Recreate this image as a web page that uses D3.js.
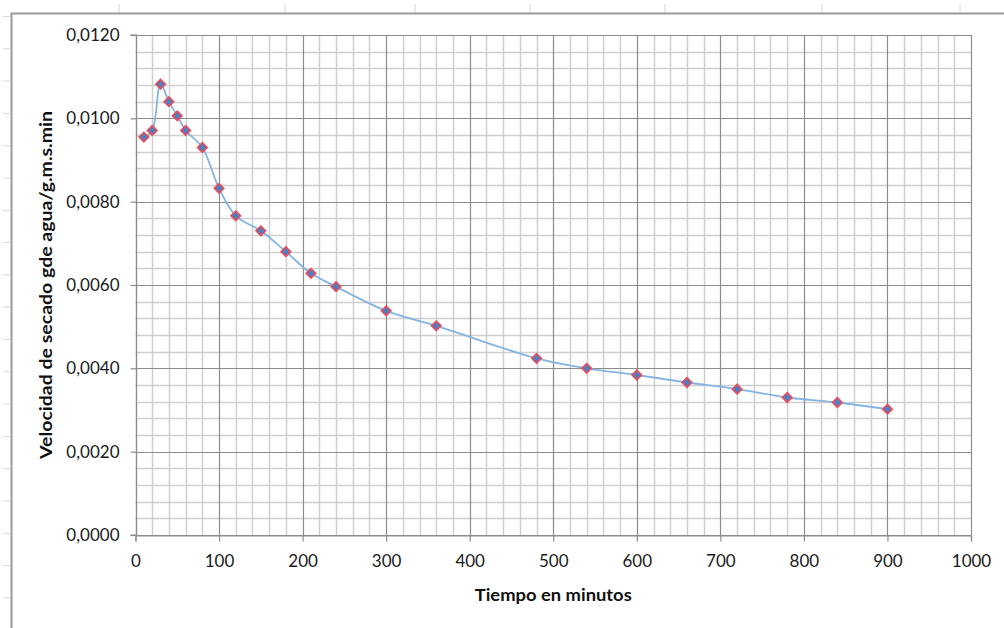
<!DOCTYPE html>
<html>
<head>
<meta charset="utf-8">
<script src="https://cdn.jsdelivr.net/npm/d3@7"></script>
<style>
  html, body { margin: 0; padding: 0; background: #fff; }
  svg { display: block; }
  text { font-family: Lato, "Open Sans", sans-serif; }
</style>
</head>
<body>
<svg id="chart" width="1004" height="628"></svg>
<script>
// Data (time in minutes vs drying rate)
const tiempo = [10, 20, 30, 40, 50, 60, 80, 100, 120, 150, 180, 210, 240, 300, 360, 480, 540, 600, 660, 720, 780, 840, 900];
const velocidad = [0.00955, 0.00971, 0.01082, 0.01040, 0.01006, 0.00971, 0.00930, 0.00832, 0.00766, 0.00730, 0.00680, 0.00628, 0.00596, 0.00538, 0.00502, 0.00424, 0.00400, 0.00384, 0.00366, 0.00350, 0.00330, 0.00318, 0.00302];
const xTicks = [0, 100, 200, 300, 400, 500, 600, 700, 800, 900, 1000];
const yTicks = [0, 0.002, 0.004, 0.006, 0.008, 0.010, 0.012];
const xTitle = "Tiempo en minutos";
const yTitle = "Velocidad de secado gde agua/g.m.s.min";

const svg = d3.select("#chart");

// Spreadsheet background artifacts (cell separators)
const topMarks = [119, 285, 415, 530, 665, 822, 960];
svg.selectAll("line.topmark").data(topMarks).enter().append("line")
  .attr("x1", d => d).attr("x2", d => d).attr("y1", 4).attr("y2", 13)
  .attr("stroke", "#d8d8d8").attr("stroke-width", 1);
const leftMarks = d3.range(19).map(i => 16.5 + i * 32.3);
svg.selectAll("line.leftmark").data(leftMarks).enter().append("line")
  .attr("x1", 3).attr("x2", 10).attr("y1", d => d).attr("y2", d => d)
  .attr("stroke", "#d8d8d8").attr("stroke-width", 1);

// Chart area border
svg.append("path")
  .attr("d", "M11.5,628 L11.5,13.5 L1004,13.5")
  .attr("fill", "none").attr("stroke", "#9a9a9a").attr("stroke-width", 2);

const x = d3.scaleLinear().domain([0, 1000]).range([135.5, 971]);
const y = d3.scaleLinear().domain([0, 0.012]).range([535, 35]);

const g = svg.append("g");

// Minor gridlines
const xMinor = d3.range(0, 1001, 20).filter(v => v % 100 !== 0);
const yMinor = d3.range(0, 31).map(i => i * 0.0004).filter((v, i) => i % 5 !== 0);
g.selectAll("line.xminor").data(xMinor).enter().append("line")
  .attr("x1", d => Math.round(x(d)) + 0.5).attr("x2", d => Math.round(x(d)) + 0.5)
  .attr("y1", y(0.012)).attr("y2", y(0))
  .attr("stroke", "#cfcfcf").attr("stroke-width", 1.5);
g.selectAll("line.yminor").data(yMinor).enter().append("line")
  .attr("y1", d => Math.round(y(d)) + 0.5).attr("y2", d => Math.round(y(d)) + 0.5)
  .attr("x1", x(0)).attr("x2", x(1000))
  .attr("stroke", "#cfcfcf").attr("stroke-width", 1.5);

// Major gridlines
g.selectAll("line.xmajor").data(xTicks).enter().append("line")
  .attr("x1", d => Math.round(x(d)) + 0.5).attr("x2", d => Math.round(x(d)) + 0.5)
  .attr("y1", y(0.012)).attr("y2", y(0))
  .attr("stroke", "#8c8c8c").attr("stroke-width", 1.2);
g.selectAll("line.ymajor").data(yTicks).enter().append("line")
  .attr("y1", d => Math.round(y(d)) + 0.5).attr("y2", d => Math.round(y(d)) + 0.5)
  .attr("x1", x(0)).attr("x2", x(1000))
  .attr("stroke", "#8c8c8c").attr("stroke-width", 1.2);

// Axes
const xAxis = d3.axisBottom(x).tickValues(xTicks).tickSize(6).tickPadding(13).tickFormat(d3.format("d"));
const yAxis = d3.axisLeft(y).tickValues(yTicks).tickSize(6).tickPadding(11)
  .tickFormat(d => d3.format(".4f")(d).replace(".", ","));

const gx = svg.append("g").attr("transform", `translate(0,${y(0) + 0.5})`).call(xAxis);
const gy = svg.append("g").attr("transform", `translate(${Math.round(x(0)) + 0.5},0)`).call(yAxis);
[gx, gy].forEach(a => {
  a.select(".domain").attr("stroke", "#8c8c8c").attr("stroke-width", 1.2);
  a.selectAll(".tick line").attr("stroke", "#8c8c8c").attr("stroke-width", 1.2);
  a.selectAll(".tick text").attr("fill", "#1a1a22").style("font-size", "17px")
    .style("font-family", "Lato, 'Open Sans', sans-serif");
});
gy.select(".domain").attr("d", `M-6,${y(0.012)}H0V${y(0)}H-6`);

// Series line (smoothed)
const pts = tiempo.map((t, i) => [t, velocidad[i]]);
const line = d3.line().x(d => x(d[0])).y(d => y(d[1])).curve(d3.curveCatmullRom.alpha(0.5));
svg.append("path").datum(pts).attr("d", line)
  .attr("fill", "none").attr("stroke", "#85b4e2").attr("stroke-width", 1.8);

// Markers: diamonds
const sym = d3.symbol().type(d3.symbolSquare).size(46);
svg.selectAll("path.mk").data(pts).enter().append("path")
  .attr("d", sym)
  .attr("transform", d => `translate(${x(d[0])},${y(d[1])}) rotate(45)`)
  .attr("fill", "#4f7fbf").attr("stroke", "#f04a5a").attr("stroke-width", 1.6);

// Axis titles
svg.append("text").attr("x", (x(0) + x(1000)) / 2).attr("y", 601)
  .attr("text-anchor", "middle").style("font-size", "17px").style("font-weight", "bold")
  .attr("textLength", 157).attr("lengthAdjust", "spacingAndGlyphs")
  .attr("fill", "#111").text(xTitle);
svg.append("text")
  .attr("transform", `translate(52,${(y(0) + y(0.012)) / 2}) rotate(-90)`)
  .attr("text-anchor", "middle").style("font-size", "17px").style("font-weight", "bold")
  .attr("textLength", 348).attr("lengthAdjust", "spacingAndGlyphs")
  .attr("fill", "#111").text(yTitle);
</script>
</body>
</html>
